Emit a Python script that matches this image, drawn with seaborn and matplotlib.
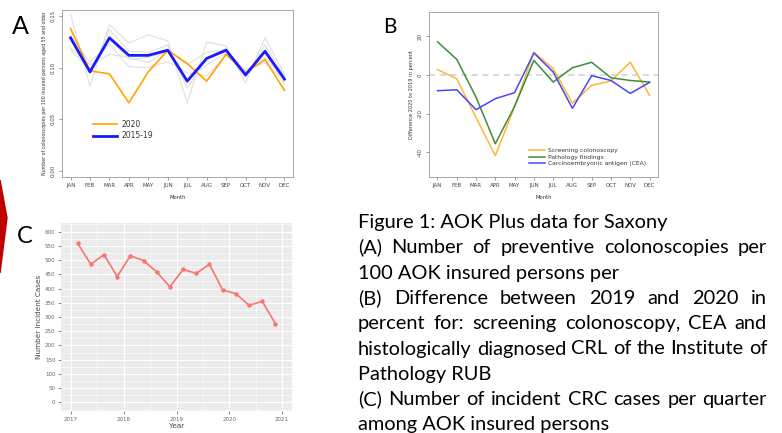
import numpy as np
import pandas as pd
import matplotlib
matplotlib.use("Agg")
import matplotlib.pyplot as plt
import seaborn as sns
from matplotlib.patches import Polygon
from matplotlib.ticker import MultipleLocator

# ---------------- data ----------------
months = ["JAN", "FEB", "MAR", "APR", "MAY", "JUN", "JUL", "AUG", "SEP", "OCT", "NOV", "DEC"]

# Panel A: colonoscopies per 100 insured persons
a_2020 = [0.138, 0.097, 0.094, 0.066, 0.096, 0.117, 0.104, 0.087, 0.113, 0.095, 0.108, 0.078]
a_2015_19 = [0.129, 0.096, 0.129, 0.112, 0.112, 0.117, 0.087, 0.109, 0.117, 0.093, 0.116, 0.089]
a_y2015 = [0.152, 0.082, 0.142, 0.124, 0.132, 0.126, 0.066, 0.125, 0.121, 0.085, 0.129, 0.094]
a_y2016 = [0.131, 0.105, 0.123, 0.101, 0.100, 0.106, 0.095, 0.092, 0.112, 0.098, 0.105, 0.087]
a_y2017 = [0.127, 0.094, 0.137, 0.116, 0.115, 0.122, 0.080, 0.110, 0.119, 0.090, 0.122, 0.092]
a_y2018 = [0.119, 0.103, 0.113, 0.110, 0.105, 0.117, 0.103, 0.115, 0.117, 0.097, 0.110, 0.090]
a_y2019 = [0.117, 0.098, 0.130, 0.108, 0.110, 0.116, 0.088, 0.103, 0.114, 0.093, 0.115, 0.084]

# Panel B: difference 2020 to 2019 in percent
b_screening = [2.8, -1.9, -22.0, -41.6, -16.5, 11.9, 3.3, -14.5, -5.3, -3.1, 6.7, -10.5]
b_pathology = [17.2, 8.1, -11.4, -35.5, -16.2, 7.6, -3.6, 3.8, 6.6, -1.4, -2.8, -3.6]
b_cea = [-8.1, -7.6, -17.9, -12.2, -9.1, 11.4, 1.6, -17.2, -0.3, -2.8, -9.5, -3.8]

# Panel C: incident CRC cases per quarter
c_quarters = ["2017Q1", "2017Q2", "2017Q3", "2017Q4", "2018Q1", "2018Q2", "2018Q3", "2018Q4",
              "2019Q1", "2019Q2", "2019Q3", "2019Q4", "2020Q1", "2020Q2", "2020Q3", "2020Q4"]
c_cases = [559, 485, 519, 442, 515, 498, 458, 406, 467, 453, 485, 395, 382, 341, 355, 277]

caption_lines = [
    ("Figure 1: AOK Plus data for Saxony", False),
    ("(A)  Number of preventive colonoscopies per", True),
    ("100 AOK insured persons per", False),
    ("(B) Difference between 2019 and 2020 in", True),
    ("percent for: screening colonoscopy, CEA and", True),
    ("histologically diagnosed CRL of the Institute of", True),
    ("Pathology RUB", False),
    ("(C)   Number of incident CRC cases per quarter", True),
    ("among AOK insured persons", False),
]

# ---------------- figure ----------------
W, H = 782, 433
fig = plt.figure(figsize=(W / 100, H / 100), dpi=100)
fig.patch.set_facecolor("white")


def rect(x0, y0, x1, y1):
    return [x0 / W, 1 - y1 / H, (x1 - x0) / W, (y1 - y0) / H]


def r_base_style(ax):
    for s in ax.spines.values():
        s.set_color("#9a9a9a")
        s.set_linewidth(0.6)
    ax.tick_params(axis="both", direction="out", length=2.5, width=0.5,
                   color="#777777", labelsize=4.0, labelcolor="#444444", pad=2)
    ax.set_facecolor("white")


mnum = np.arange(1, 13)

# ----- Panel A -----
axA = fig.add_axes(rect(62, 10, 293, 177))
r_base_style(axA)
gray = pd.DataFrame({
    "m": np.tile(mnum, 5),
    "v": a_y2015 + a_y2016 + a_y2017 + a_y2018 + a_y2019,
    "year": np.repeat(["2015", "2016", "2017", "2018", "2019"], 12),
})
sns.lineplot(data=gray, x="m", y="v", hue="year", palette=["#e0e0e0"] * 5,
             linewidth=0.8, legend=False, ax=axA)
sns.lineplot(x=mnum, y=a_2020, color="#FFA500", linewidth=1.2, ax=axA, label="2020")
sns.lineplot(x=mnum, y=a_2015_19, color="#1a1aff", linewidth=2.0, ax=axA, label="2015-19")
axA.set_xlim(0.56, 12.44)
axA.set_ylim(-0.006, 0.156)
axA.set_xticks(mnum)
axA.set_xticklabels(months)
axA.set_yticks([0.0, 0.05, 0.10, 0.15])
axA.set_yticklabels(["0.00", "0.05", "0.10", "0.15"], rotation=90, va="center")
axA.set_xlabel("Month", fontsize=3.8, color="#333333", labelpad=5)
axA.set_ylabel("Number of colonoscopies per 100 insured persons aged 55 and older",
               fontsize=3.4, color="#333333", labelpad=3)
legA = axA.legend(loc="upper left", bbox_to_anchor=(0.12, 0.36), frameon=False,
                  fontsize=5.5, handlelength=3.2, handletextpad=0.6, borderaxespad=0,
                  labelspacing=0.3)
for t in legA.get_texts():
    t.set_color("#333333")

# ----- Panel B -----
axB = fig.add_axes(rect(429, 12, 658, 177))
r_base_style(axB)
axB.axhline(0, color="#cfcfcf", linestyle=(0, (4, 3)), linewidth=1.1, zorder=0)
sns.lineplot(x=mnum, y=b_screening, color="#FFB733", linewidth=1.1, ax=axB,
             label="Screening colonoscopy")
sns.lineplot(x=mnum, y=b_pathology, color="#3C8C3C", linewidth=1.1, ax=axB,
             label="Pathology findings")
sns.lineplot(x=mnum, y=b_cea, color="#4646ff", linewidth=1.1, ax=axB,
             label="Carcinoembryonic antigen (CEA)")
axB.set_xlim(0.56, 12.44)
axB.set_ylim(-52.7, 32.6)
axB.set_xticks(mnum)
axB.set_xticklabels(months)
axB.set_yticks([-40, -20, 0, 20])
axB.set_yticklabels(["-40", "-20", "0", "20"], rotation=90, va="center")
axB.set_xlabel("Month", fontsize=3.8, color="#333333", labelpad=5)
axB.set_ylabel("Difference 2020 to 2019 in percent", fontsize=3.6, color="#333333", labelpad=3)
legB = axB.legend(loc="lower right", bbox_to_anchor=(0.96, 0.05), frameon=False,
                  fontsize=4.3, handlelength=2.6, handletextpad=0.6, borderaxespad=0,
                  labelspacing=0.25)
for t in legB.get_texts():
    t.set_color("#333333")

# ----- Panel C -----
axC = fig.add_axes(rect(61, 223, 292, 411))
axC.set_facecolor("#EBEBEB")
for s in axC.spines.values():
    s.set_visible(False)
cq = pd.PeriodIndex(c_quarters, freq="Q")
cx = cq.year + (cq.quarter - 0.5) / 4.0
axC.set_axisbelow(True)
axC.set_xlim(2016.81, 2021.19)
axC.set_ylim(-30, 630)
axC.yaxis.set_major_locator(MultipleLocator(50))
axC.yaxis.set_minor_locator(MultipleLocator(25))
axC.xaxis.set_major_locator(MultipleLocator(1))
axC.xaxis.set_minor_locator(MultipleLocator(0.5))
axC.grid(which="major", color="white", linewidth=0.8)
axC.grid(which="minor", color="white", linewidth=0.4)
sns.lineplot(x=np.asarray(cx), y=c_cases, color="#F8766D", linewidth=1.2, marker="o",
             markersize=3.2, markeredgewidth=0, ax=axC)
axC.tick_params(axis="both", which="major", direction="out", length=2, width=0.5,
                color="#555555", labelsize=4.0, labelcolor="#666666", pad=2)
axC.tick_params(axis="both", which="minor", length=0)
axC.set_xticks([2017, 2018, 2019, 2020, 2021])
axC.set_xticklabels(["2017", "2018", "2019", "2020", "2021"])
axC.set_xlabel("Year", fontsize=5.2, color="#444444", labelpad=1)
axC.set_ylabel("Number Incident Cases", fontsize=5.2, color="#444444", labelpad=2)

# ----- Panel letters -----
fig.text(12 / W, 1 - 34 / H, "A", fontsize=18, family="Lato", color="black", va="baseline")
fig.text(383 / W, 1 - 33 / H, "B", fontsize=15, family="Lato", color="black", va="baseline")
fig.text(17 / W, 1 - 243 / H, "C", fontsize=17, family="Lato", color="black", va="baseline")

# ----- Decorative red chevron at left edge -----
fig.patches.append(Polygon([(0, 1 - 180 / H), (7 / W, 1 - 218 / H), (0, 1 - 273 / H)],
                           closed=True, transform=fig.transFigure, color="#C00000",
                           figure=fig))

# ----- Caption (justified) -----
renderer = fig.canvas.get_renderer()
x_left, x_right = 358, 767
ref_line = caption_lines[5][0]
probe = fig.text(0, 0, ref_line, fontsize=10, family="Lato")
w10 = probe.get_window_extent(renderer).width
probe.remove()
cap_size = 10 * (x_right - x_left) / w10

base0, step = 228, 25.3
for i, (line, justify) in enumerate(caption_lines):
    yb = 1 - (base0 + step * i) / H
    if not justify:
        fig.text(x_left / W, yb, line, fontsize=cap_size, family="Lato", va="baseline",
                 color="black")
        continue
    words = line.split()
    widths = []
    for wd in words:
        t = fig.text(0, 0, wd, fontsize=cap_size, family="Lato")
        widths.append(t.get_window_extent(renderer).width)
        t.remove()
    gap = ((x_right - x_left) - sum(widths)) / (len(words) - 1)
    x = x_left
    for wd, wpx in zip(words, widths):
        fig.text(x / W, yb, wd, fontsize=cap_size, family="Lato", va="baseline", color="black")
        x += wpx + gap

fig.savefig("out.png", dpi=100, facecolor="white")
